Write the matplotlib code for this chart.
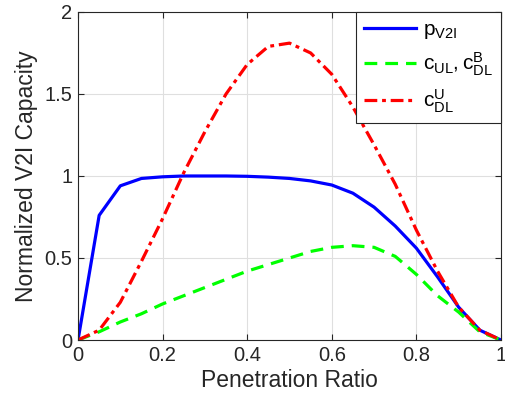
import matplotlib
matplotlib.use("Agg")
import matplotlib.pyplot as plt

plt.rcParams['font.family'] = ['Liberation Sans', 'DejaVu Sans']
plt.rcParams['mathtext.fontset'] = 'custom'
plt.rcParams['mathtext.rm'] = 'Liberation Sans'
plt.rcParams['mathtext.it'] = 'Liberation Sans'

# penetration ratio samples
ratio = [0, 0.05, 0.1, 0.15, 0.2, 0.25, 0.3, 0.35, 0.4, 0.45, 0.5,
         0.55, 0.6, 0.65, 0.7, 0.75, 0.8, 0.85, 0.9, 0.95, 1.0]
p_v2i = [0, 0.76, 0.94, 0.985, 0.995, 1.0, 1.0, 1.0, 0.998, 0.993, 0.985,
         0.97, 0.945, 0.895, 0.81, 0.695, 0.56, 0.385, 0.2, 0.06, 0]
c_ul = [0, 0.05, 0.11, 0.16, 0.22, 0.27, 0.32, 0.37, 0.42, 0.46, 0.5,
        0.54, 0.565, 0.575, 0.565, 0.51, 0.4, 0.27, 0.17, 0.05, 0]
c_dl_u = [0, 0.06, 0.23, 0.48, 0.74, 1.02, 1.27, 1.5, 1.68, 1.79, 1.81,
          1.75, 1.62, 1.42, 1.19, 0.95, 0.67, 0.42, 0.2, 0.06, 0]

fig = plt.figure(figsize=(5.05, 4.07), dpi=100)
ax = fig.add_axes([0.1545, 0.1646, 0.8375, 0.806])

ax.plot(ratio, p_v2i, color='#0000ff', lw=2.3, label=r'$\mathrm{p_{V2I}}$')
ax.plot(ratio, c_ul, color='#00ff00', lw=2.3, ls=(0, (4, 2.5)),
        label=r'$\mathrm{c_{UL}, c_{DL}^{B}}$')
ax.plot(ratio, c_dl_u, color='#ff0000', lw=2.3, ls=(0, (4, 1.5, 1.2, 1.5)),
        label=r'$\mathrm{c_{DL}^{U}}$')

ax.set_xlim(0, 1)
ax.set_ylim(0, 2)
ax.set_xticks([0, 0.2, 0.4, 0.6, 0.8, 1])
ax.set_xticklabels(['0', '0.2', '0.4', '0.6', '0.8', '1'])
ax.set_yticks([0, 0.5, 1, 1.5, 2])
ax.set_yticklabels(['0', '0.5', '1', '1.5', '2'])
ax.grid(True, color='#dfdfdf', lw=0.8)
ax.set_axisbelow(True)
for s in ax.spines.values():
    s.set_color('#262626')
    s.set_linewidth(0.8)
ax.tick_params(direction='in', labelsize=14.5, colors='#262626', length=4,
               pad=4, top=True, right=True)
ax.set_xlabel('Penetration Ratio', fontsize=16.5, color='#262626', labelpad=3)
ax.set_ylabel('Normalized V2I Capacity', fontsize=16.5, color='#262626', labelpad=5)

leg = ax.legend(loc='upper right', fontsize=15, fancybox=False, framealpha=1,
                edgecolor='#262626', borderaxespad=0, handlelength=2.5,
                handletextpad=0.3, labelspacing=0.45, borderpad=0.4)
leg.get_frame().set_linewidth(0.8)

fig.savefig('out.png', dpi=100)
